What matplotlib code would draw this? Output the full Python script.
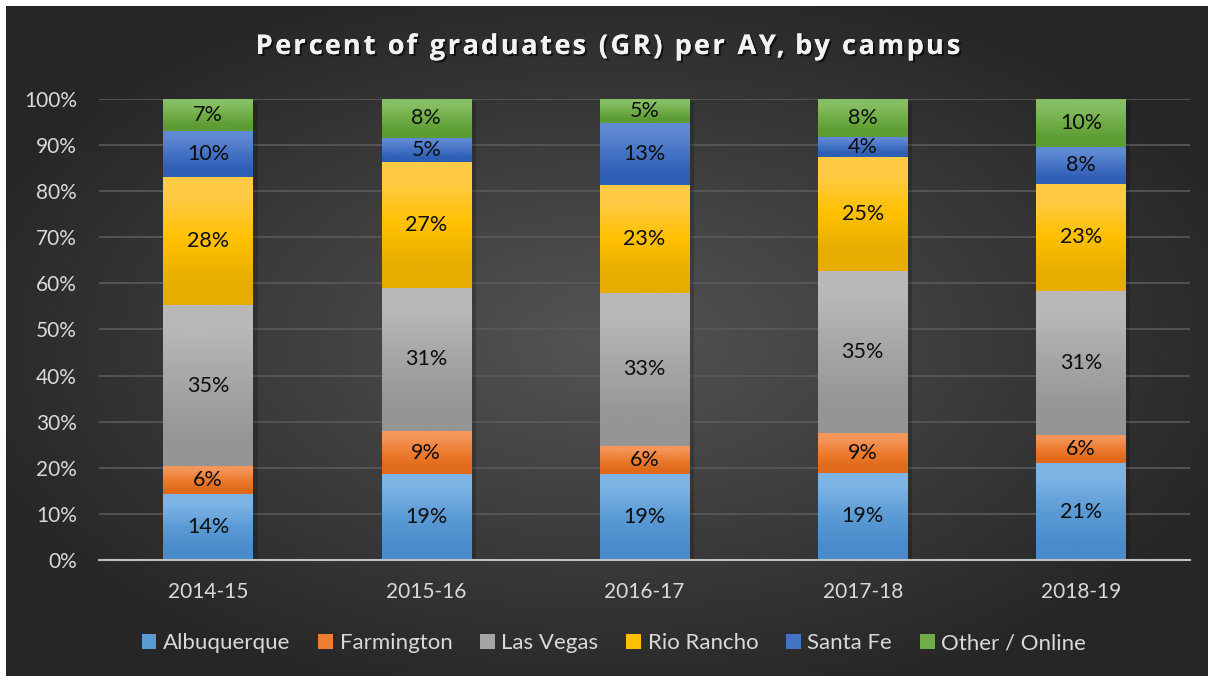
import numpy as np
import matplotlib.pyplot as plt
import matplotlib.patheffects as pe
from matplotlib.colors import to_rgb
from matplotlib.font_manager import FontProperties
from matplotlib.textpath import TextToPath

years = ['2014-15', '2015-16', '2016-17', '2017-18', '2018-19']
campuses = ['Albuquerque', 'Farmington', 'Las Vegas', 'Rio Rancho', 'Santa Fe', 'Other / Online']

albuquerque = [14.3, 18.6, 18.6, 18.9, 21.0]
farmington = [6.1, 9.4, 6.2, 8.6, 6.1]
las_vegas = [34.9, 31.0, 33.2, 35.2, 31.3]
rio_rancho = [27.8, 27.3, 23.4, 24.7, 23.2]
santa_fe = [10.0, 5.3, 13.4, 4.4, 8.0]
other_online = [6.9, 8.4, 5.2, 8.2, 10.4]

series = [albuquerque, farmington, las_vegas, rio_rancho, santa_fe, other_online]

title = 'Percent of graduates (GR) per AY, by campus'

# (top, middle, bottom) colours for the Excel-like gradient fill
grads = [
    ('#7DB3E5', '#5B9BD5', '#4A8BCB'),
    ('#F4955A', '#ED7D31', '#E06A1B'),
    ('#B8B8B8', '#A5A5A5', '#959595'),
    ('#FFCB45', '#FFC000', '#E6AD00'),
    ('#5F88D3', '#4472C4', '#2F5EB5'),
    ('#86BE63', '#70AD47', '#5C9C33'),
]

W, H = 1208, 681
fig = plt.figure(figsize=(W / 100, H / 100), dpi=100, facecolor='white')

# dark radial background
bg = fig.add_axes([6 / W, 5 / H, 1 - 6 / W, 1 - 11 / H])
bg.set_axis_off()
yy, xx = np.mgrid[0:1:300j, 0:1:500j]
r = np.sqrt(((xx - 0.5) / 0.75) ** 2 + ((yy - 0.5) / 0.75) ** 2)
shade = np.clip(0.33 - 0.24 * r, 0.15, 0.35)
bg.imshow(np.dstack([shade] * 3), aspect='auto', extent=[0, 1, 0, 1],
          interpolation='bicubic')

ax = fig.add_axes([99 / W, 1 - 560 / H, 1091 / W, 461 / H])
ax.set_facecolor('none')
x = np.arange(len(years))
width = 0.41

bottom = np.zeros(len(years))
for name, vals, g in zip(campuses, series, grads):
    bars = ax.bar(x, vals, width, bottom=bottom, color=g[1], label=name, zorder=3,
                  linewidth=0)
    top_c, mid_c, bot_c = (np.array(to_rgb(c)) for c in g)
    grad = np.array([[top_c], [mid_c], [bot_c]])
    for b, v in zip(bars, vals):
        x0, y0 = b.get_x(), b.get_y()
        ax.imshow(grad, extent=[x0, x0 + b.get_width(), y0, y0 + b.get_height()],
                  aspect='auto', interpolation='bilinear', zorder=3.5)
        ax.text(x0 + b.get_width() / 2, y0 + v / 2, f'{v:.0f}%', ha='center',
                va='center', fontsize=15.5, color='#0D0D0D', family='Lato', zorder=5)
    bottom += np.array(vals)

# soft shadow behind each bar stack
for xi in x:
    ax.bar(xi + 0.012, 100, width + 0.02, bottom=-0.6, color='black', alpha=0.18,
           zorder=2.5, linewidth=0)

ax.set_xlim(-0.5, len(years) - 0.5)
ax.set_ylim(0, 100)
ax.set_yticks(range(0, 101, 10))
ax.set_yticklabels([f'{t}%' for t in range(0, 101, 10)])
ax.set_xticks(x)
ax.set_xticklabels(years)
ax.tick_params(length=0, colors='#D9D9D9', labelsize=15)
ax.tick_params(axis='y', pad=16)
ax.tick_params(axis='x', pad=16)
for lab in ax.get_xticklabels() + ax.get_yticklabels():
    lab.set_family('Lato')
ax.grid(axis='y', color='#5A5A5A', linewidth=1.2, zorder=0)
for s in ['top', 'right', 'left']:
    ax.spines[s].set_visible(False)
ax.spines['bottom'].set_color('#BFBFBF')
ax.spines['bottom'].set_linewidth(1.5)
ax.spines['bottom'].set_zorder(4)

# title with letter spacing, placed character by character
tprop = FontProperties(family='Open Sans', weight='bold', size=19.5)
t2p = TextToPath()
spacing = 2.6  # extra px between letters
px = 100 / 72.0
w_x = t2p.get_text_width_height_descent('x', tprop, ismath=False)[0]
adv = []
for i in range(len(title)):
    w_full = t2p.get_text_width_height_descent(title[:i + 1] + 'x', tprop, ismath=False)[0]
    adv.append((w_full - w_x) * px)
total = adv[-1] + spacing * (len(title) - 1)
start = W / 2 + 4 - total / 2
prev = 0.0
for i, ch in enumerate(title):
    cx = start + prev + spacing * i
    fig.text(cx / W, 1 - 47 / H, ch, ha='left', va='center', fontproperties=tprop,
             color='#F2F2F2',
             path_effects=[pe.withSimplePatchShadow(offset=(1.5, -1.5), shadow_rgbFace='black',
                                                    alpha=0.6), pe.Normal()])
    prev = adv[i]

handles, labels = ax.get_legend_handles_labels()
leg = fig.legend(handles, labels, loc='center', bbox_to_anchor=(0.5 + 10 / W, 1 - 643 / H),
                 ncol=6, frameon=False, handlelength=0.66, handleheight=0.66,
                 handletextpad=0.3, columnspacing=1.25, prop={'family': 'Lato', 'size': 16})
for t in leg.get_texts():
    t.set_color('#D9D9D9')

fig.savefig('out.png', dpi=100, facecolor='white')
